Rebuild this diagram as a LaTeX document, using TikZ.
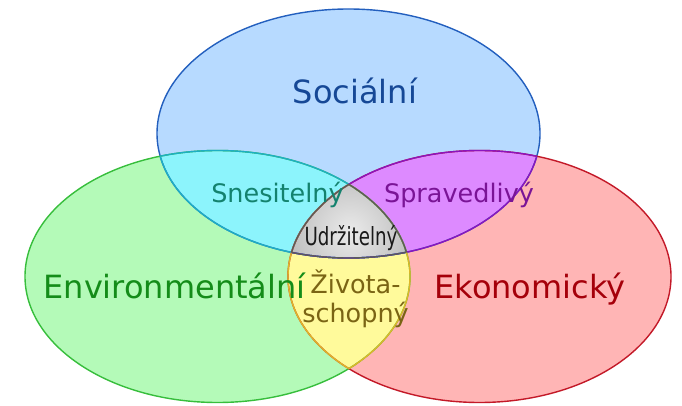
\documentclass[tikz,border=0pt]{standalone}
\usepackage{fontspec}
\setmainfont{DejaVu Sans}
\usepackage{tikz}
\usetikzlibrary{positioning}
\definecolor{socfill}{RGB}{183,218,255}
\definecolor{socline}{RGB}{35,95,190}
\definecolor{soctext}{RGB}{22,72,150}
\definecolor{envfill}{RGB}{180,250,184}
\definecolor{envline}{RGB}{55,190,60}
\definecolor{envtext}{RGB}{20,140,25}
\definecolor{ekofill}{RGB}{255,181,181}
\definecolor{ekoline}{RGB}{195,25,40}
\definecolor{ekotext}{RGB}{165,0,10}
\definecolor{snesfill}{RGB}{140,244,252}
\definecolor{snesline}{RGB}{30,175,195}
\definecolor{snestext}{RGB}{20,130,110}
\definecolor{sprafill}{RGB}{221,138,255}
\definecolor{spraline}{RGB}{140,20,190}
\definecolor{spratext}{RGB}{122,20,150}
\definecolor{zivfill}{RGB}{255,250,155}
\definecolor{zivline}{RGB}{222,182,40}
\definecolor{zivtext}{RGB}{122,100,20}
\definecolor{udrzcore}{RGB}{235,235,235}
\definecolor{udrzfill}{RGB}{165,165,165}
\definecolor{udrzline}{RGB}{90,90,90}
\tikzset{
  venn_line/.style = {line width=1.4pt},
  venn_big/.style = {inner sep=0pt, anchor=base,
    font=\fontsize{32}{38}\selectfont},% velke popisky mnozin
  venn_mid/.style = {inner sep=0pt, anchor=base,
    font=\fontsize{25.5}{29}\selectfont}% popisky pruniku
}
\newcommand{\socpath}{(348.5,133.5) ellipse [x radius=191.5pt, y radius=124.5pt]}
\newcommand{\envpath}{(217.5,276.5) ellipse [x radius=192.5pt, y radius=126pt]}
\newcommand{\ekopath}{(479.5,276.5) ellipse [x radius=191.5pt, y radius=126pt]}

\begin{document}
\begin{tikzpicture}[x=1pt,y=-1pt]
\useasboundingbox (0,0) rectangle (682,406);
% mnoziny
\fill[socfill] \socpath;
\fill[envfill] \envpath;
\fill[ekofill] \ekopath;
% pruniky dvou
\begin{scope}
  \clip \socpath;
  \fill[snesfill] \envpath;
  \fill[sprafill] \ekopath;
\end{scope}
\begin{scope}
  \clip \envpath;
  \fill[zivfill] \ekopath;
\end{scope}
% prunik vsech
\begin{scope}
  \clip \socpath;
  \clip \envpath;
  \clip \ekopath;
  \shade[inner color=udrzcore, outer color=udrzfill] (350,232) circle (95pt);
\end{scope}

\draw[venn_line, socline] \socpath;
\draw[venn_line, envline] \envpath;
\draw[venn_line, ekoline] \ekopath;

\begin{scope}
  \clip \socpath;
  \draw[venn_line, snesline] \envpath;
  \draw[venn_line, spraline] \ekopath;
\end{scope}
\begin{scope}
  \clip \envpath;
  \draw[venn_line, snesline] \socpath;
  \draw[venn_line, zivline] \ekopath;
\end{scope}
\begin{scope}
  \clip \ekopath;
  \draw[venn_line, spraline] \socpath;
  \draw[venn_line, zivline] \envpath;
\end{scope}
\begin{scope}
  \clip \socpath;
  \clip \envpath;
  \draw[venn_line, udrzline] \ekopath;
\end{scope}
\begin{scope}
  \clip \socpath;
  \clip \ekopath;
  \draw[venn_line, udrzline] \envpath;
\end{scope}
\begin{scope}
  \clip \envpath;
  \clip \ekopath;
  \draw[venn_line, udrzline] \socpath;
\end{scope}

\node[venn_big, text=soctext] (soc) at (355,104) {Sociální};
\node[venn_big, text=envtext] (env) at (174.5,298) {Environmentální};
\node[venn_big, text=ekotext] (eko) at (530,298) {Ekonomický};
\node[venn_mid, text=snestext] (snes) at (277.5,202) {Snesitelný};
\node[venn_mid, text=spratext] (sprav) at (459,202) {Spravedlivý};
\node[venn_mid, font=\fontsize{25}{29}\selectfont, text=black!90] (udrz) at (351,245)
  {\scalebox{0.73}[1]{Udržitelný}};
\node[venn_mid, anchor=center, align=center, text=zivtext] (ziv) at (355.5,299)
  {Života-\\schopný};
\end{tikzpicture}
\end{document}
